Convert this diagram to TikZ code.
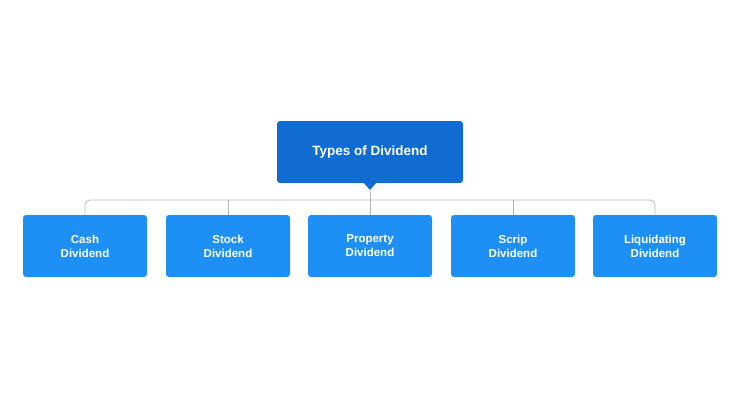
\documentclass[tikz,border=0pt]{standalone}
\usepackage{fontspec}
\setmainfont{Liberation Sans}
\usetikzlibrary{positioning}
\definecolor{rootblue}{HTML}{106CD0}
\definecolor{leafblue}{HTML}{1E90F5}
\definecolor{linegray}{HTML}{B4B4B4}

\begin{document}
\begin{tikzpicture}[x=1pt,y=-1pt,
                    leaf/.style={fill=leafblue,text=white,rounded corners=3pt,
                      minimum width=124pt,minimum height=62pt,align=center,
                      font=\fontsize{11.5}{14}\selectfont\bfseries},
                    link/.style={draw=linegray,line width=0.7pt}]
  \useasboundingbox (0,0) rectangle (740,400);

  \node[fill=rootblue,text=white,rounded corners=3pt,minimum width=186pt,
        minimum height=62pt,font=\fontsize{13.5}{16}\selectfont\bfseries]
        (root) at (370,152) {Types of Dividend};
  \fill[rootblue] (363,182) -- (377,182) -- (370,190) -- cycle;

  \node[leaf] (cash)   at (85,246)  {Cash\\Dividend};
  \node[leaf] (stock)  at (228,246) {Stock\\Dividend};
  \node[leaf] (prop)   at (370,246) {Property\\Dividend};
  \node[leaf] (scrip)  at (513,246) {Scrip\\Dividend};
  \node[leaf] (liquid) at (655,246) {Liquidating\\Dividend};

  \coordinate (hub) at (370,200);
  \draw[link] (root.south) ++(0,8) -- (hub);
  \draw[link,rounded corners=5pt] (cash.north) |- (hub) -| (liquid.north);
  \foreach \n in {stock,prop,scrip}
    \draw[link] (\n.north) -- (\n.north |- hub);
\end{tikzpicture}
\end{document}
